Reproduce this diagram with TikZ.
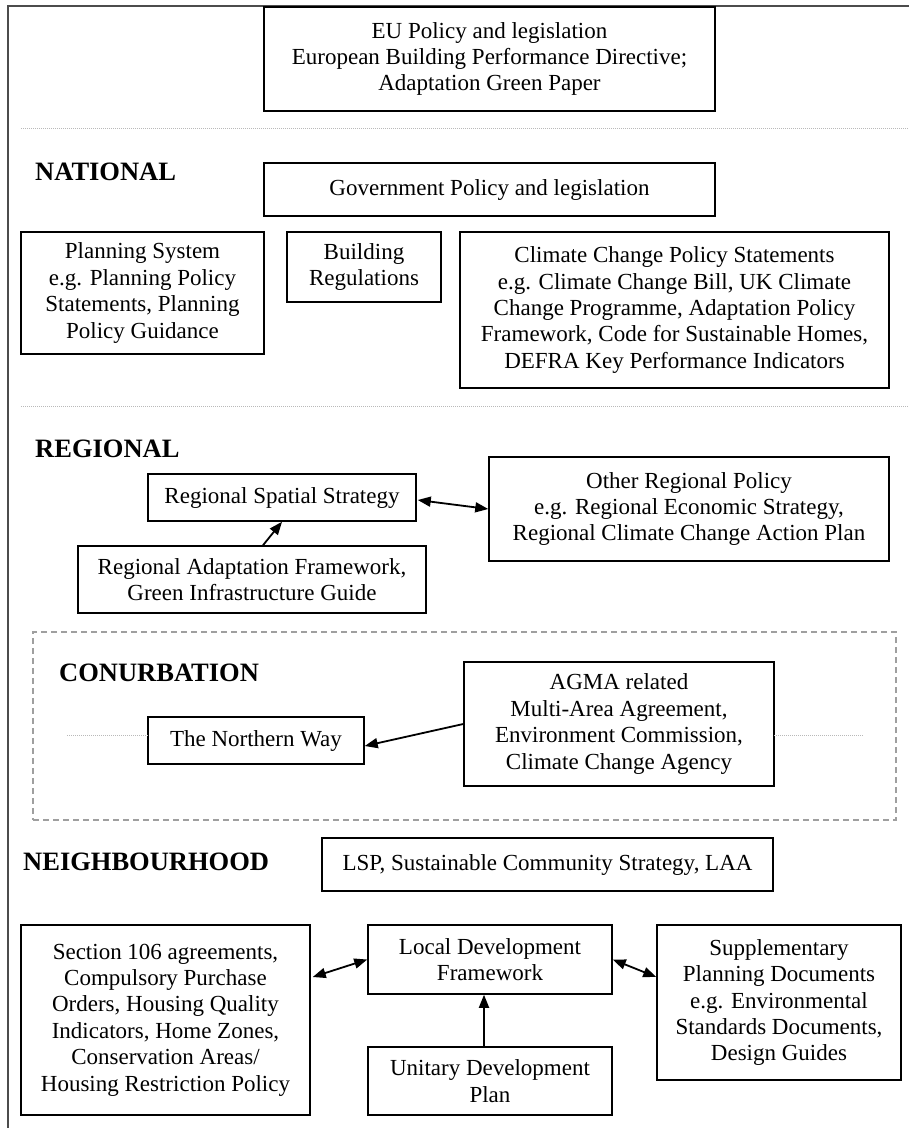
\documentclass[tikz,border=0pt]{standalone}
\usepackage{fontspec}
\setmainfont{Liberation Serif}
\usetikzlibrary{calc,arrows.meta}
\tikzset{
  box/.style={draw, line width=1.5pt, align=center, inner sep=0pt, font=\fontsize{23}{26.4}\selectfont},
  lvl/.style={anchor=base west, inner sep=0pt, font=\fontsize{26.5}{30}\selectfont\bfseries},
  sep/.style={draw=gray!55, line width=1pt, dash pattern=on 1pt off 1pt},
  tip/.tip={Triangle[length=13pt,width=10pt]},
  arr/.style={line width=1.8pt, -tip},
  darr/.style={line width=1.8pt, tip-tip},
}
\begin{document}
\begin{tikzpicture}[x=1pt,y=-1pt]
\useasboundingbox (0,0) rectangle (909,1128);
% frame
\coordinate (ftl) at (8,6);
\coordinate (ftr) at (909,6);
\coordinate (fbl) at (8,1128);
\draw[line width=1.5pt, draw=black!70] (ftr) -- (ftl) -- (fbl);
% separators
\coordinate (s1a) at (21,128); \coordinate (s1b) at (909,128);
\coordinate (s2a) at (21,406); \coordinate (s2b) at (909,406);
\draw[sep] (s1a) -- (s1b);
\draw[sep] (s2a) -- (s2b);
% EU
\node[box, minimum width=451, minimum height=104] (eu) at (489.5,59)
  {EU Policy and legislation\\European Building Performance Directive;\\Adaptation Green Paper};
% National
\node[lvl] (nat) at (35,180) {NATIONAL};
\node[box, minimum width=451, minimum height=53] (gov) at (489.5,189.5) {Government Policy and legislation};
\node[box, minimum width=243, minimum height=122] (plan) at (142.5,293)
  {Planning System\\e.g. Planning Policy\\Statements, Planning\\Policy Guidance};
\node[box, minimum width=154, minimum height=70] (bldg) at (364,267) {Building\\Regulations};
\node[box, minimum width=429, minimum height=156] (clim) at (674.5,310)
  {Climate Change Policy Statements\\e.g. Climate Change Bill, UK Climate\\Change Programme, Adaptation Policy\\Framework, Code for Sustainable Homes,\\DEFRA Key Performance Indicators};
% Regional
\node[lvl] (reg) at (35,457) {REGIONAL};
\node[box, minimum width=268, minimum height=47] (rss) at (282,497.5) {Regional Spatial Strategy};
\node[box, minimum width=400, minimum height=104] (oth) at (689,509)
  {Other Regional Policy\\e.g. Regional Economic Strategy,\\Regional Climate Change Action Plan};
\node[box, minimum width=348, minimum height=67] (raf) at (252,579.5)
  {Regional Adaptation Framework,\\Green Infrastructure Guide};
\draw[darr] ($(rss.east)+(1,2.5)$) -- (oth.west);
\draw[arr] ($(raf.north)+(11,0)$) -- (rss.south);
% Conurbation
\node[draw=gray!75, line width=1.3pt, dash pattern=on 6pt off 4pt, minimum width=863, minimum height=188, inner sep=0pt] (conb) at (464.5,726) {};
\node[lvl] (con) at (59,681) {CONURBATION};
\node[box, minimum width=216, minimum height=47] (nw) at (256,740.5) {The Northern Way};
\node[box, minimum width=310, minimum height=124] (agma) at (619,724)
  {AGMA related\\Multi-Area Agreement,\\Environment Commission,\\Climate Change Agency};
\coordinate (c1) at (67,735); \coordinate (c2) at (148,735);
\coordinate (c3) at (774,735); \coordinate (c4) at (864,735);
\draw[sep] (c1) -- (c2);
\draw[sep] (c3) -- (c4);
\draw[arr] (agma.west) -- ($(nw.east)+(0,5.5)$);
% Neighbourhood
\node[lvl] (nbh) at (23,870) {NEIGHBOURHOOD};
\node[box, minimum width=451, minimum height=53] (lsp) at (547.5,864.5) {LSP, Sustainable Community Strategy, LAA};
\node[box, minimum width=289, minimum height=190] (sec) at (165.5,1020)
  {Section 106 agreements,\\Compulsory Purchase\\Orders, Housing Quality\\Indicators, Home Zones,\\Conservation Areas/\\Housing Restriction Policy};
\node[box, minimum width=244, minimum height=69] (ldf) at (490,959.5) {Local Development\\Framework};
\node[box, minimum width=244, minimum height=68] (udp) at (490,1081) {Unitary Development\\Plan};
\node[box, minimum width=244, minimum height=155] (spd) at (779,1002.5)
  {Supplementary\\Planning Documents\\e.g. Environmental\\Standards Documents,\\Design Guides};
\draw[darr] ($(sec.east)+(2,-43)$) -- (ldf.west);
\draw[darr] (ldf.east) -- ($(spd.west)+(0,-25.5)$);
\draw[arr] ($(udp.north)+(-6,0)$) -- ($(ldf.south)+(-6,0)$);
\end{tikzpicture}
\end{document}
